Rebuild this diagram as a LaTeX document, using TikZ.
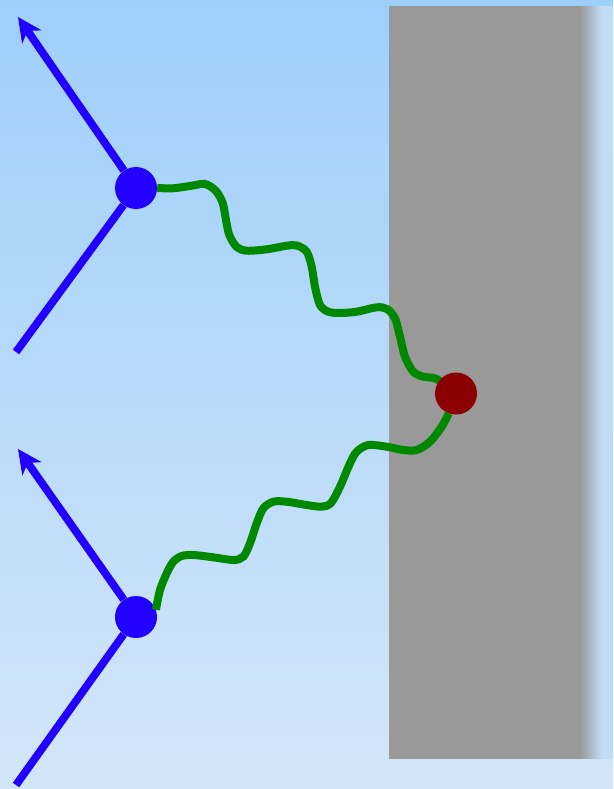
\documentclass[tikz,border=0pt]{standalone}
\usepackage{xcolor}
\usepackage{tikz}
\usetikzlibrary{arrows.meta,positioning,calc}
\definecolor{skytop}{HTML}{9ECFFA}
\definecolor{skybot}{HTML}{D3E6F9}
\definecolor{wallgray}{HTML}{999999}
\definecolor{wallrim}{HTML}{C0DCF5}
\definecolor{partblue}{RGB}{34,0,255}
\definecolor{wavegreen}{RGB}{0,136,0}
\definecolor{atomred}{RGB}{139,0,0}

\begin{document}
\begin{tikzpicture}[x=1pt,y=-1pt,>={Stealth[length=24pt,width=23pt,inset=7pt]},
  dot/.style={circle,inner sep=0pt,minimum size=42pt},
  leg/.style={draw=partblue,line width=7.8pt},
  wave/.style={draw=wavegreen,line width=8pt}]
\useasboundingbox (0,0) rectangle (613,789);
\shade[top color=skytop,bottom color=skybot] (0,0) rectangle (613,789);
\fill[wallgray] (389,6) rectangle (580,759);
\foreach \i [evaluate=\i as \mix using 100*\i/22] in {0,...,22}
  \fill[wallrim!\mix!wallgray] (579.5+\i,6) rectangle (580.7+\i,759);
\fill[wallrim] (602,6) rectangle (613,759);
\node[dot,fill=partblue] (b1) at (136,188) {};
\node[dot,fill=partblue] (b2) at (136,617) {};
\node[dot] (r) at (456,393.5) {};
\coordinate (t1) at (18,17);
\coordinate (f1) at (16,352);
\coordinate (t2) at (18,449);
\coordinate (f2) at (16,785);
\draw[leg,->] (b1) -- (t1);
\draw[leg] (b1) -- (f1);
\draw[leg,->] (b2) -- (t2);
\draw[leg] (b2) -- (f2);
\draw[wave] plot[smooth] coordinates {(b1.east) (173,188.3) (190,186) (205,184) (216,191)
  (222.7,203) (226,220) (229.3,235) (236.7,247) (246.7,250.7) (266.7,249.3) (286.7,245.7)
  (297,245.5) (306.7,251.7) (311.7,266.7) (315,286.7) (320,305) (328.3,311.7) (340,313)
  (356.7,311.7) (376.7,307.3) (387,309) (395,318.3) (400,336.7) (405,356.7) (413.3,371.7)
  (423.3,376.7) (436.7,379) (r)};
\draw[wave] plot[smooth] coordinates {(b2.20) (160,590) (166.7,573.3) (173.3,561.7)
  (181.7,556) (193.3,555) (213.3,557.3) (233.3,560) (243.3,556.7) (250,543.3) (256.7,523.3)
  (263.3,508.3) (273.3,501.7) (286.7,501.7) (306.7,505) (321.7,506.7) (331,503) (340,486.7)
  (350,463.3) (356.7,451.7) (368.3,445) (386.7,446.7) (403.3,450) (416.7,450) (430,441.7)
  (441.7,426.7) (r.250)};
\fill[atomred] (r.center) circle[radius=21pt];
\end{tikzpicture}
\end{document}
